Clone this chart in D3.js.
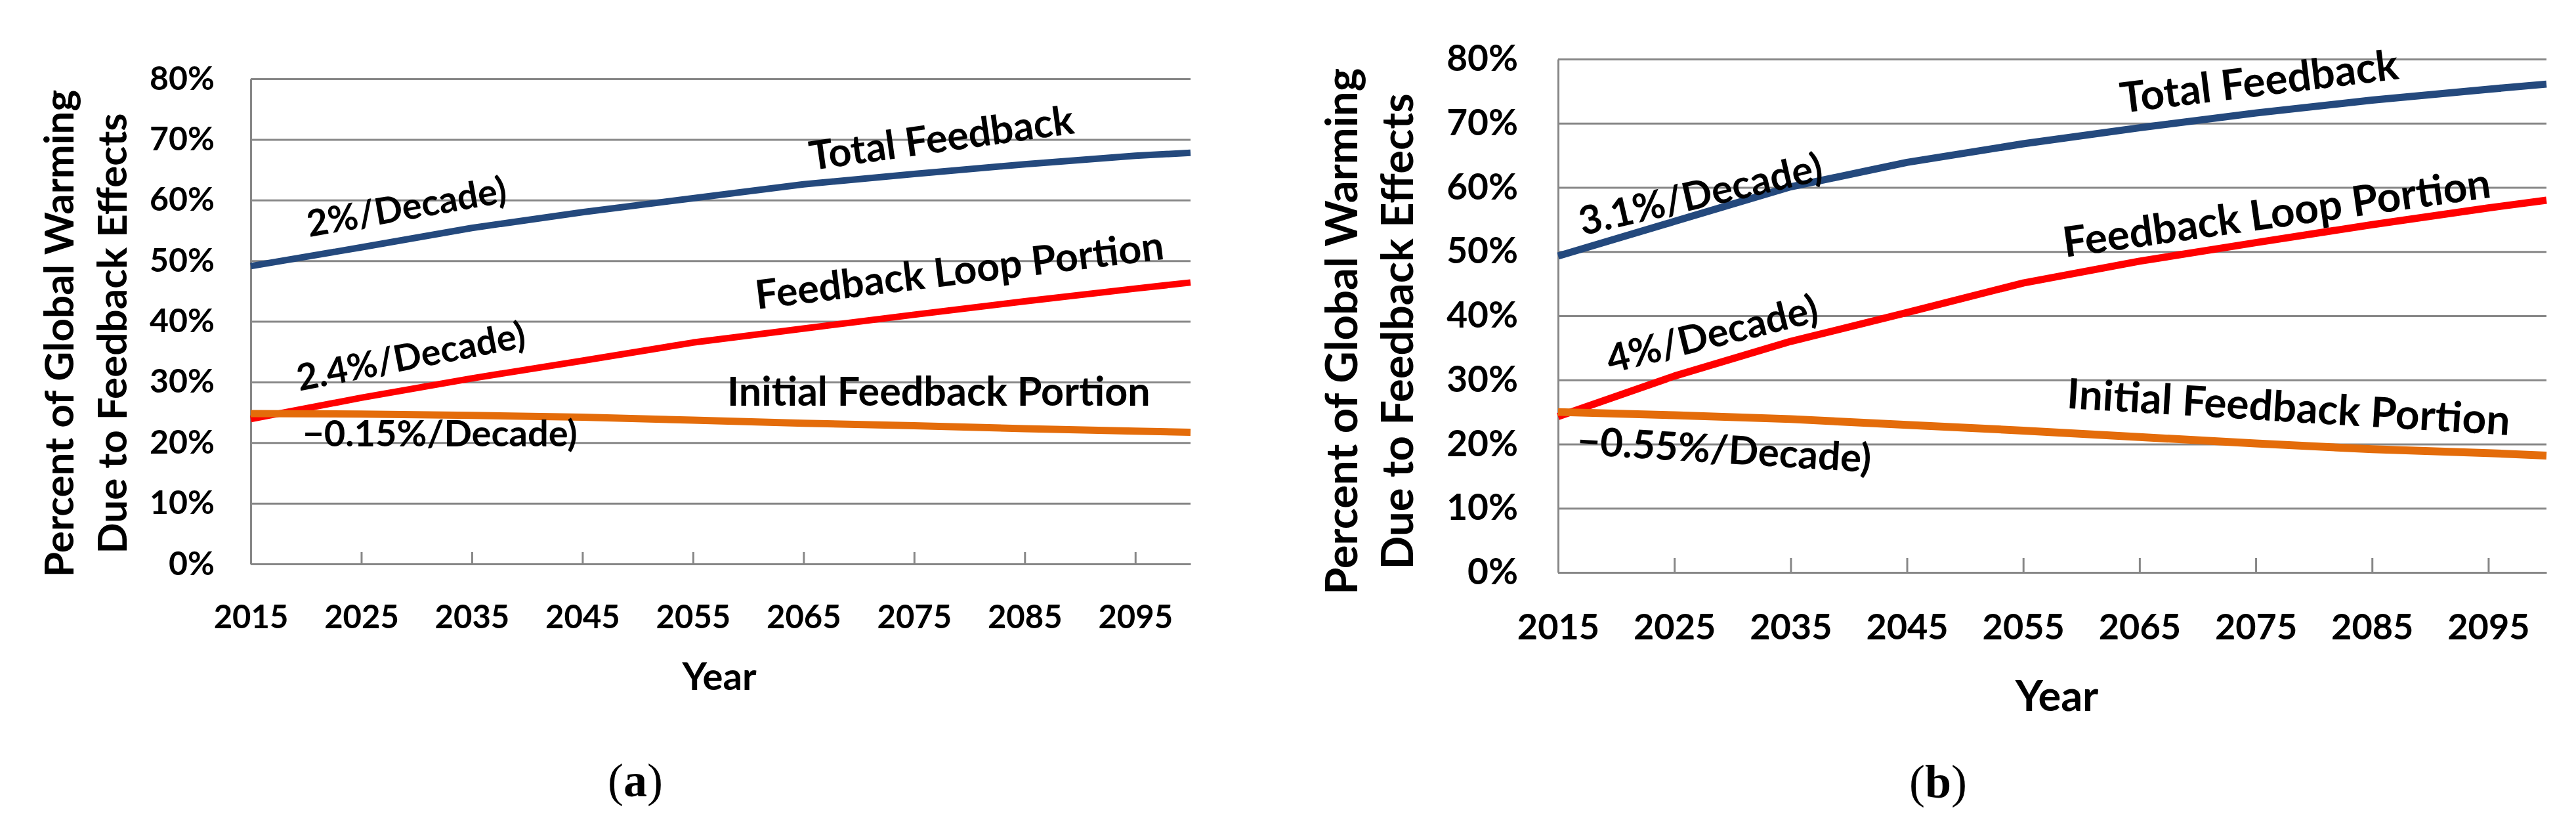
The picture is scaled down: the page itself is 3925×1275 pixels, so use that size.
<!DOCTYPE html>
<html>
<head>
<meta charset="utf-8">
<script src="https://cdn.jsdelivr.net/npm/d3@7"></script>
<style>
  html, body { margin: 0; padding: 0; background: #fff; }
  svg text { font-family: Lato, "Open Sans", sans-serif; font-weight: 700; fill: #000; }
</style>
</head>
<body>
<svg id="chart" width="3925" height="1275"></svg>
<script>
// years sampled from the curves, plus axis ticks
var years = [2015, 2025, 2035, 2045, 2055, 2065, 2075, 2085, 2095, 2100];
var yearTicks = [2015, 2025, 2035, 2045, 2055, 2065, 2075, 2085, 2095];
var pctTicks = [0, 10, 20, 30, 40, 50, 60, 70, 80];

// panel (a)
var totalA   = [49.1, 52.2, 55.4, 58.0, 60.3, 62.6, 64.3, 65.9, 67.3, 67.8];
var loopA    = [23.9, 27.4, 30.6, 33.5, 36.5, 38.8, 41.1, 43.3, 45.4, 46.4];
var initialA = [24.8, 24.7, 24.5, 24.2, 23.7, 23.2, 22.8, 22.3, 21.9, 21.7];

// panel (b)
var totalB   = [49.3, 54.7, 60.1, 63.9, 66.8, 69.3, 71.6, 73.6, 75.3, 76.1];
var loopB    = [24.3, 30.6, 36.0, 40.5, 45.1, 48.5, 51.4, 54.2, 56.8, 58.0];
var initialB = [25.0, 24.5, 23.9, 23.0, 22.1, 21.1, 20.1, 19.2, 18.6, 18.2];

// annotation texts, anchored in data units (year, percent)
var labelsA = [
    {text: 'Total Feedback', year: 2065.7, pct: 64.9, angle: -8, kind: 'name'},
    {text: '2%/Decade)', year: 2020.3, pct: 53.9, angle: -10, kind: 'rate'},
    {text: 'Feedback Loop Portion', year: 2060.8, pct: 42.0, angle: -7, kind: 'name'},
    {text: '2.4%/Decade)', year: 2019.4, pct: 28.5, angle: -11, kind: 'rate'},
    {text: 'Initial Feedback Portion', year: 2058.1, pct: 26.1, angle: 0, kind: 'name'},
    {text: '\u22120.15%/Decade)', year: 2019.7, pct: 19.4, angle: 0, kind: 'rate'}
];
var labelsB = [
    {text: 'Total Feedback', year: 2063.5, pct: 71.6, angle: -7, kind: 'name'},
    {text: '3.1%/Decade)', year: 2017.1, pct: 52.5, angle: -13, kind: 'rate'},
    {text: 'Feedback Loop Portion', year: 2058.6, pct: 49.1, angle: -8, kind: 'name'},
    {text: '4%/Decade)', year: 2019.5, pct: 31.0, angle: -14, kind: 'rate'},
    {text: 'Initial Feedback Portion', year: 2058.7, pct: 25.6, angle: 3.5, kind: 'name'},
    {text: '\u22120.55%/Decade)', year: 2016.6, pct: 18.4, angle: 3.5, kind: 'rate'}
];

var colors = {total: '#24497d', loop: '#ff0000', initial: '#e46c0a'};
var gridColor = '#878787';

var panels = [
    {cap: 'a', left: 382, right: 1814, top: 120, bottom: 859,
     total: totalA, loop: loopA, initial: initialA, labels: labelsA,
     tickFont: 50, xFont: 49, titleFont: 62, yearFont: 58, nameFont: 61, rateFont: 56,
     tickGap: 55, xPad: 63, tickLen: 18, titleX: [112, 193], titleY: 508,
     yearX: 1096, yearY: 1051, capX: 968, capY: 1213, lineW: 10},
    {cap: 'b', left: 2374, right: 3880, top: 90, bottom: 872,
     total: totalB, loop: loopB, initial: initialB, labels: labelsB,
     tickFont: 55, xFont: 54, titleFont: 67, yearFont: 65, nameFont: 64, rateFont: 60,
     tickGap: 61, xPad: 64, tickLen: 22, titleX: [2068, 2153], titleY: 505,
     yearX: 3134, yearY: 1083, capX: 2953, capY: 1215, lineW: 11}
];

var svg = d3.select('#chart');

panels.forEach(function(p){
    var x = d3.scaleLinear().domain([2015, 2100]).range([p.left, p.right]);
    var y = d3.scaleLinear().domain([0, 80]).range([p.bottom, p.top]);
    var w = p.right - p.left;

    var g = svg.append('g');

    // y axis with full-width gridlines
    var yAxis = g.append('g')
        .attr('transform', 'translate(' + p.left + ',0)')
        .call(d3.axisLeft(y).tickValues(pctTicks).tickSize(-w).tickSizeOuter(0)
            .tickPadding(p.tickGap).tickFormat(function(d){ return d + '%'; }));
    yAxis.selectAll('line').attr('stroke', gridColor).attr('stroke-width', 3);
    yAxis.select('.domain').attr('stroke', gridColor).attr('stroke-width', 3);
    yAxis.selectAll('text')
        .attr('font-size', p.tickFont)
        .style('font-family', 'Lato, sans-serif').style('font-weight', 700);

    // x axis, ticks pointing inward
    var xAxis = g.append('g')
        .attr('transform', 'translate(0,' + p.bottom + ')')
        .call(d3.axisBottom(x).tickValues(yearTicks).tickSizeInner(-p.tickLen)
            .tickSizeOuter(0).tickPadding(p.xPad).tickFormat(d3.format('d')));
    xAxis.select('.domain').attr('stroke', gridColor).attr('stroke-width', 3);
    xAxis.selectAll('line').attr('stroke', gridColor).attr('stroke-width', 3);
    xAxis.selectAll('text')
        .attr('font-size', p.xFont)
        .style('font-family', 'Lato, sans-serif').style('font-weight', 700);

    // series
    var line = d3.line()
        .x(function(d){ return x(d[0]); })
        .y(function(d){ return y(d[1]); });
    [['total', p.total], ['loop', p.loop], ['initial', p.initial]].forEach(function(s){
        g.append('path')
            .datum(d3.zip(years, s[1]))
            .attr('d', line)
            .attr('fill', 'none')
            .attr('stroke', colors[s[0]])
            .attr('stroke-width', s[0] === 'initial' ? p.lineW + 1 : p.lineW)
            .attr('stroke-linejoin', 'round');
    });

    // annotations
    g.selectAll('text.note')
        .data(p.labels)
        .enter().append('text')
        .attr('class', 'note')
        .attr('font-size', function(d){ return d.kind === 'name' ? p.nameFont : p.rateFont; })
        .attr('transform', function(d){
            return 'translate(' + x(d.year) + ',' + y(d.pct) + ') rotate(' + d.angle + ')';
        })
        .text(function(d){ return d.text; });

    // y title, two lines
    ['Percent of Global Warming', 'Due to Feedback Effects'].forEach(function(t, i){
        g.append('text')
            .attr('font-size', p.titleFont)
            .attr('text-anchor', 'middle')
            .attr('transform', 'translate(' + p.titleX[i] + ',' + p.titleY + ') rotate(-90)')
            .text(t);
    });

    g.append('text')
        .attr('x', p.yearX).attr('y', p.yearY)
        .attr('font-size', p.yearFont)
        .attr('text-anchor', 'middle')
        .text('Year');

    // panel caption
    var cap = g.append('text')
        .attr('x', p.capX).attr('y', p.capY)
        .attr('text-anchor', 'middle')
        .attr('font-size', 72)
        .style('font-family', '"Liberation Serif", "Times New Roman", serif')
        .style('font-weight', 400);
    cap.append('tspan').text('(');
    cap.append('tspan').style('font-weight', 700).text(p.cap);
    cap.append('tspan').text(')');
});
</script>
</body>
</html>
